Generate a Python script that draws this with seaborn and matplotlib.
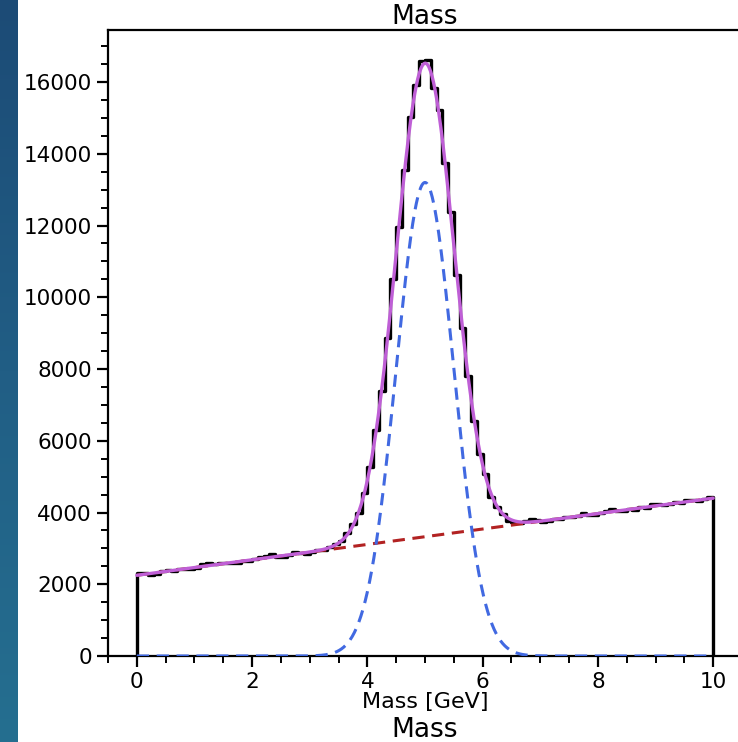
import numpy as np
import pandas as pd
import matplotlib
matplotlib.use("Agg")
import matplotlib.pyplot as plt
import seaborn as sns
from matplotlib.ticker import MultipleLocator
from matplotlib.colors import LinearSegmentedColormap

# ---- data ----
bin_edges = [round(0.1 * i, 1) for i in range(101)]
bin_counts = [
    2301, 2302, 2264, 2275, 2357, 2398, 2380, 2416, 2413, 2439,
    2451, 2557, 2589, 2560, 2592, 2593, 2585, 2596, 2658, 2659,
    2696, 2772, 2774, 2835, 2757, 2768, 2810, 2891, 2883, 2854,
    2886, 2951, 2968, 3047, 3130, 3210, 3440, 3676, 3985, 4555,
    5262, 6313, 7390, 8866, 10516, 11952, 13542, 15020, 15912, 16600,
    16620, 15826, 15228, 13732, 12376, 10632, 9136, 7802, 6559, 5630,
    5077, 4429, 4144, 3960, 3774, 3736, 3697, 3760, 3807, 3791,
    3726, 3767, 3819, 3820, 3872, 3863, 3905, 3976, 3918, 3919,
    3991, 4052, 4084, 4035, 4037, 4098, 4080, 4151, 4113, 4234,
    4236, 4197, 4249, 4290, 4272, 4343, 4345, 4316, 4388, 4439,
]
# fitted model parameters
gauss_amp, gauss_mean, gauss_sigma = 13200.0, 5.0, 0.5
bkg_intercept, bkg_slope = 2250.0, 215.0
x_ticks = [0, 2, 4, 6, 8, 10]
y_ticks = [0, 2000, 4000, 6000, 8000, 10000, 12000, 14000, 16000]

centers = [(bin_edges[i] + bin_edges[i + 1]) / 2 for i in range(len(bin_counts))]
df = pd.DataFrame({"mass": centers, "count": bin_counts})

xf = np.linspace(bin_edges[0], bin_edges[-1], 801)
sig = gauss_amp * np.exp(-0.5 * ((xf - gauss_mean) / gauss_sigma) ** 2)
bkg = bkg_intercept + bkg_slope * xf
fit_df = pd.DataFrame({"x": xf, "sig": sig, "bkg": bkg, "tot": sig + bkg})

# ---- figure ----
sns.set_style("ticks")
plt.rcParams["font.family"] = ["DejaVu Sans"]
plt.rcParams["text.color"] = "black"
plt.rcParams["xtick.color"] = "black"
plt.rcParams["ytick.color"] = "black"
plt.rcParams["axes.labelcolor"] = "black"
W, H = 738, 742
fig = plt.figure(figsize=(W / 100, H / 100), dpi=100)

# left blue strip
strip = fig.add_axes([0, 0, 18 / W, 1])
grad = np.linspace(0, 1, 256).reshape(-1, 1)
cmap = LinearSegmentedColormap.from_list("strip", ["#1c4b76", "#215e85", "#256f90"])
strip.imshow(grad, aspect="auto", cmap=cmap, extent=[0, 1, 0, 1])
strip.set_axis_off()

ax = fig.add_axes([108 / W, 86 / H, 634 / W, 626 / H])

sns.histplot(data=df, x="mass", weights="count", bins=bin_edges,
             element="step", fill=False, color="black", linewidth=2.4,
             ax=ax, zorder=2)
# outer edges of the step histogram drop to zero
ax.vlines([bin_edges[0], bin_edges[-1]], 0, [bin_counts[0], bin_counts[-1]],
          color="black", linewidth=2.4, zorder=2)
sns.lineplot(data=fit_df, x="x", y="bkg", color="#b22222", linewidth=2.2,
             linestyle=(0, (4, 2.5)), ax=ax, zorder=3)
sns.lineplot(data=fit_df, x="x", y="sig", color="#4169e1", linewidth=2.2,
             linestyle=(0, (4, 2.5)), ax=ax, zorder=3)
sns.lineplot(data=fit_df, x="x", y="tot", color="#bf5fd6", linewidth=2.4,
             ax=ax, zorder=4)

ax.set_xlim(-0.5, 10.5)
ax.set_ylim(0, 1.05 * max(bin_counts))
ax.set_xticks(x_ticks)
ax.set_yticks(y_ticks)
ax.xaxis.set_minor_locator(MultipleLocator(0.5))
ax.yaxis.set_minor_locator(MultipleLocator(500))
ax.tick_params(which="major", length=8, width=1.6, labelsize=15.5,
               direction="out", colors="black")
ax.tick_params(which="minor", length=5, width=1.4, direction="out", colors="black")
for s in ax.spines.values():
    s.set_linewidth(1.6)
    s.set_color("black")
ax.set_xlabel("Mass [GeV]", fontsize=16, labelpad=0, color="black")
ax.set_ylabel("")
ax.set_title("Mass", fontsize=19, pad=3, color="black")

fig.text((108 + 742) / 2 / W, -1 / H, "Mass", fontsize=19, ha="center",
         va="bottom", color="black")

fig.savefig("out.png", dpi=100)
